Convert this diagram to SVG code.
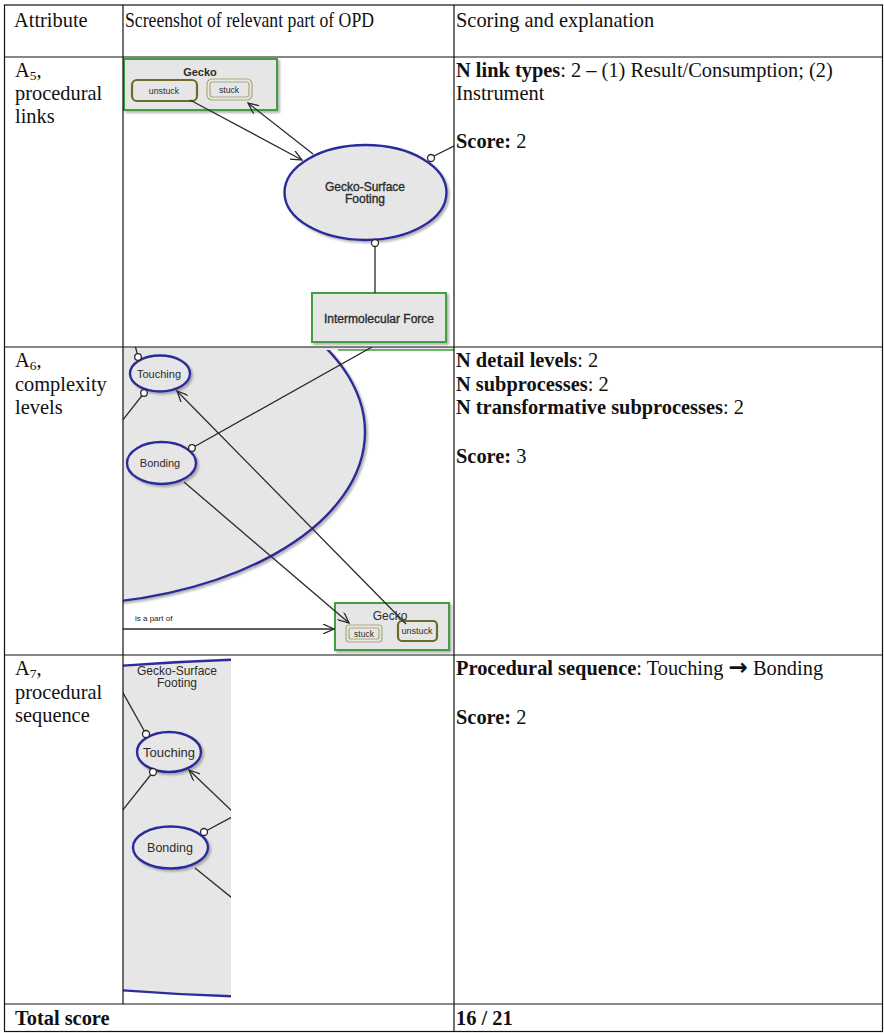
<svg xmlns="http://www.w3.org/2000/svg" width="884" height="1033" viewBox="0 0 884 1033">
  <style>
    .grid { stroke: #111; stroke-width: 1.2; fill: none; }
    .t { font-family: "Liberation Serif", "Times New Roman", serif; font-size: 20.4px; fill: #111; }
    .b { font-weight: bold; }
    .arrow { font-family: "DejaVu Sans", sans-serif; font-weight: bold; font-size: 23px; }
    .obj { fill: #e6e6e6; stroke: #3f9f3f; stroke-width: 2; }
    .proc { fill: #e6e6e6; stroke: #2c2c9c; stroke-width: 2.4; }
    .st-dark { fill: #e6e6e6; stroke: #6d6a2c; stroke-width: 2.2; }
    .st-light { fill: #e6e6e6; stroke: #aca878; stroke-width: 1.2; }
    .lbl { font-family: "Liberation Sans", Arial, sans-serif; fill: #2b2b2b; text-anchor: middle; }
    .heavy { stroke: #2b2b2b; stroke-width: 0.35; }
    .link { stroke: #2a2a2a; stroke-width: 1.3; fill: none; }
    .pin { fill: #fff; stroke: #2a2a2a; stroke-width: 1.3; }
  </style>
  <defs>
    <filter id="shadow" x="-10%" y="-10%" width="130%" height="130%">
      <feDropShadow dx="2" dy="2" stdDeviation="1.2" flood-color="#777" flood-opacity="0.55"/>
    </filter>
    <marker id="open" viewBox="0 0 12 10" refX="11" refY="5" markerWidth="12" markerHeight="10" markerUnits="userSpaceOnUse" orient="auto">
      <path d="M0,0 L11,5 L0,10" fill="none" stroke="#2a2a2a" stroke-width="1.3"/>
    </marker>
    <clipPath id="c1"><rect x="123" y="57" width="331" height="290"/></clipPath>
    <clipPath id="c2"><rect x="123" y="347" width="331" height="308"/></clipPath>
    <clipPath id="c3"><rect x="123" y="655" width="108" height="349"/></clipPath>
  </defs>

  <rect width="884" height="1033" fill="#fff"/>

  <!-- Screenshot 1: procedural links -->
  <g id="shot-a5" clip-path="url(#c1)">
    <g id="a5-gecko">
      <rect class="obj" x="124" y="59" width="153" height="51" filter="url(#shadow)"/>
      <text class="lbl" x="200" y="76" font-size="11" font-weight="bold">Gecko</text>
      <rect class="st-dark" x="132" y="80" width="65" height="21" rx="5"/>
      <text class="lbl" x="164" y="94" font-size="8.8" fill="#555">unstuck</text>
      <rect class="st-light" x="207" y="79" width="45" height="21" rx="5"/>
      <rect class="st-light" x="210" y="82" width="39" height="15" rx="3"/>
      <text class="lbl" x="229" y="93" font-size="8.6" fill="#555">stuck</text>
    </g>
    <g id="a5-footing">
      <ellipse class="proc" cx="365.5" cy="192.5" rx="81" ry="47.5" filter="url(#shadow)"/>
      <text class="lbl heavy" x="365" y="191" font-size="12">Gecko-Surface</text>
      <text class="lbl heavy" x="365" y="203" font-size="12">Footing</text>
    </g>
    <g id="a5-force">
      <rect class="obj" x="312" y="293" width="134" height="49" filter="url(#shadow)"/>
      <text class="lbl heavy" x="379" y="323" font-size="12">Intermolecular Force</text>
    </g>
    <g id="a5-connectors">
      <line class="link" x1="190" y1="100" x2="302" y2="160" marker-end="url(#open)"/>
      <line class="link" x1="313" y1="154" x2="248" y2="103" marker-end="url(#open)"/>
      <line class="link" x1="434" y1="156" x2="456" y2="145"/>
      <line class="link" x1="375" y1="246" x2="375" y2="293"/>
      <circle class="pin" cx="431" cy="158" r="3.5"/>
      <circle class="pin" cx="375" cy="243" r="3.5"/>
    </g>
  </g>

  <!-- Screenshot 2: complexity levels -->
  <g id="shot-a6" clip-path="url(#c2)">
    <g id="a6-footing">
      <ellipse class="proc" cx="55" cy="432" rx="310" ry="173" filter="url(#shadow)"/>
    </g>
    <rect x="317" y="345" width="137" height="5" fill="#e6e6e6"/>
    <line x1="338" y1="350" x2="454" y2="350" stroke="#3f9f3f" stroke-width="1.6"/>
    <g id="a6-touching">
      <ellipse class="proc" cx="160" cy="373.5" rx="30" ry="18" filter="url(#shadow)"/>
      <text class="lbl" x="159" y="378" font-size="11" fill="#444">Touching</text>
    </g>
    <g id="a6-bonding">
      <ellipse class="proc" cx="161.5" cy="463" rx="34.5" ry="21" filter="url(#shadow)"/>
      <text class="lbl" x="160" y="467" font-size="11" fill="#444">Bonding</text>
    </g>
    <g id="a6-gecko">
      <rect class="obj" x="335" y="603" width="114" height="47" filter="url(#shadow)"/>
      <text class="lbl" x="390" y="620" font-size="12" fill="#555">Gecko</text>
      <rect class="st-light" x="346" y="625" width="36" height="17" rx="3"/>
      <rect class="st-light" x="349" y="628" width="30" height="11" rx="2"/>
      <text class="lbl" x="364" y="637" font-size="8.5" fill="#333">stuck</text>
      <rect class="st-dark" x="398" y="621" width="39" height="20" rx="4"/>
      <text class="lbl" x="417" y="634" font-size="9" fill="#333">unstuck</text>
    </g>
    <g id="a6-connectors">
      <line class="link" x1="135" y1="345" x2="138" y2="357"/>
      <line class="link" x1="144" y1="393" x2="122" y2="421"/>
      <line class="link" x1="192" y1="448" x2="372" y2="347"/>
      <line class="link" x1="406" y1="624" x2="177" y2="391" marker-end="url(#open)"/>
      <line class="link" x1="184" y1="482" x2="349" y2="623" marker-end="url(#open)"/>
      <line class="link" x1="122" y1="629" x2="334" y2="629" marker-end="url(#open)"/>
      <text x="135" y="621" font-family="Liberation Sans, Arial, sans-serif" font-size="8" fill="#222">is a part of</text>
      <circle class="pin" cx="138" cy="357" r="3.3"/>
      <circle class="pin" cx="144" cy="393" r="3.3"/>
      <circle class="pin" cx="192" cy="448" r="3.3"/>
    </g>
  </g>

  <!-- Screenshot 3: procedural sequence -->
  <g id="shot-a7" clip-path="url(#c3)">
    <g id="a7-footing">
      <ellipse class="proc" cx="330" cy="828" rx="700" ry="170"/>
      <text class="lbl" x="177" y="675" font-size="12" fill="#444">Gecko-Surface</text>
      <text class="lbl" x="177" y="687" font-size="12" fill="#444">Footing</text>
    </g>
    <g id="a7-touching">
      <ellipse class="proc" cx="169" cy="752" rx="32" ry="20" filter="url(#shadow)"/>
      <text class="lbl" x="169" y="757" font-size="13" fill="#333">Touching</text>
    </g>
    <g id="a7-bonding">
      <ellipse class="proc" cx="170.5" cy="847.5" rx="37.5" ry="21" filter="url(#shadow)"/>
      <text class="lbl" x="170" y="852" font-size="12.5" fill="#333">Bonding</text>
    </g>
    <g id="a7-connectors">
      <line class="link" x1="122" y1="691" x2="146" y2="734"/>
      <line class="link" x1="153" y1="772" x2="122" y2="811"/>
      <line class="link" x1="232" y1="811" x2="189" y2="770" marker-end="url(#open)"/>
      <line class="link" x1="204" y1="832" x2="232" y2="817"/>
      <line class="link" x1="195" y1="868" x2="232" y2="898"/>
      <circle class="pin" cx="146" cy="734" r="3.5"/>
      <circle class="pin" cx="153" cy="772" r="3.5"/>
      <circle class="pin" cx="204" cy="832" r="3.5"/>
    </g>
  </g>

  <!-- Table grid -->
  <g id="table">
    <rect class="grid" x="4.5" y="5" width="878" height="1026.5"/>
    <line class="grid" x1="4.5" y1="57" x2="882.5" y2="57"/>
    <line class="grid" x1="4.5" y1="347" x2="882.5" y2="347"/>
    <line class="grid" x1="4.5" y1="655" x2="882.5" y2="655"/>
    <line class="grid" x1="4.5" y1="1004" x2="882.5" y2="1004"/>
    <line class="grid" x1="123" y1="5" x2="123" y2="1004"/>
    <line class="grid" x1="454" y1="5" x2="454" y2="1031.5"/>
  </g>

  <!-- Table text -->
  <g id="header">
    <text class="t" x="14" y="27">Attribute</text>
    <text class="t" x="125" y="27" textLength="249" lengthAdjust="spacingAndGlyphs">Screenshot of relevant part of OPD</text>
    <text class="t" x="456" y="27">Scoring and explanation</text>
  </g>
  <g id="row-a5">
    <text class="t" x="15" y="77">A<tspan font-size="13.5" dy="3">5</tspan><tspan dy="-3">,</tspan></text>
    <text class="t" x="15" y="100">procedural</text>
    <text class="t" x="15" y="123">links</text>
    <text class="t" x="456" y="77"><tspan class="b">N link types</tspan>: 2 – (1) Result/Consumption; (2)</text>
    <text class="t" x="456" y="100">Instrument</text>
    <text class="t" x="456" y="148"><tspan class="b">Score:</tspan> 2</text>
  </g>
  <g id="row-a6">
    <text class="t" x="15" y="367">A<tspan font-size="13.5" dy="3">6</tspan><tspan dy="-3">,</tspan></text>
    <text class="t" x="15" y="391">complexity</text>
    <text class="t" x="15" y="414">levels</text>
    <text class="t" x="456" y="367"><tspan class="b">N detail levels</tspan>: 2</text>
    <text class="t" x="456" y="391"><tspan class="b">N subprocesses</tspan>: 2</text>
    <text class="t" x="456" y="414"><tspan class="b">N transformative subprocesses</tspan>: 2</text>
    <text class="t" x="456" y="463"><tspan class="b">Score:</tspan> 3</text>
  </g>
  <g id="row-a7">
    <text class="t" x="15" y="675">A<tspan font-size="13.5" dy="3">7</tspan><tspan dy="-3">,</tspan></text>
    <text class="t" x="15" y="699">procedural</text>
    <text class="t" x="15" y="722">sequence</text>
    <text class="t" x="456" y="675"><tspan class="b">Procedural sequence</tspan>: Touching <tspan class="arrow">→</tspan> Bonding</text>
    <text class="t" x="456" y="724"><tspan class="b">Score:</tspan> 2</text>
  </g>
  <g id="row-total">
    <text class="t b" x="15" y="1025">Total score</text>
    <text class="t b" x="456" y="1025">16 / 21</text>
  </g>
</svg>
